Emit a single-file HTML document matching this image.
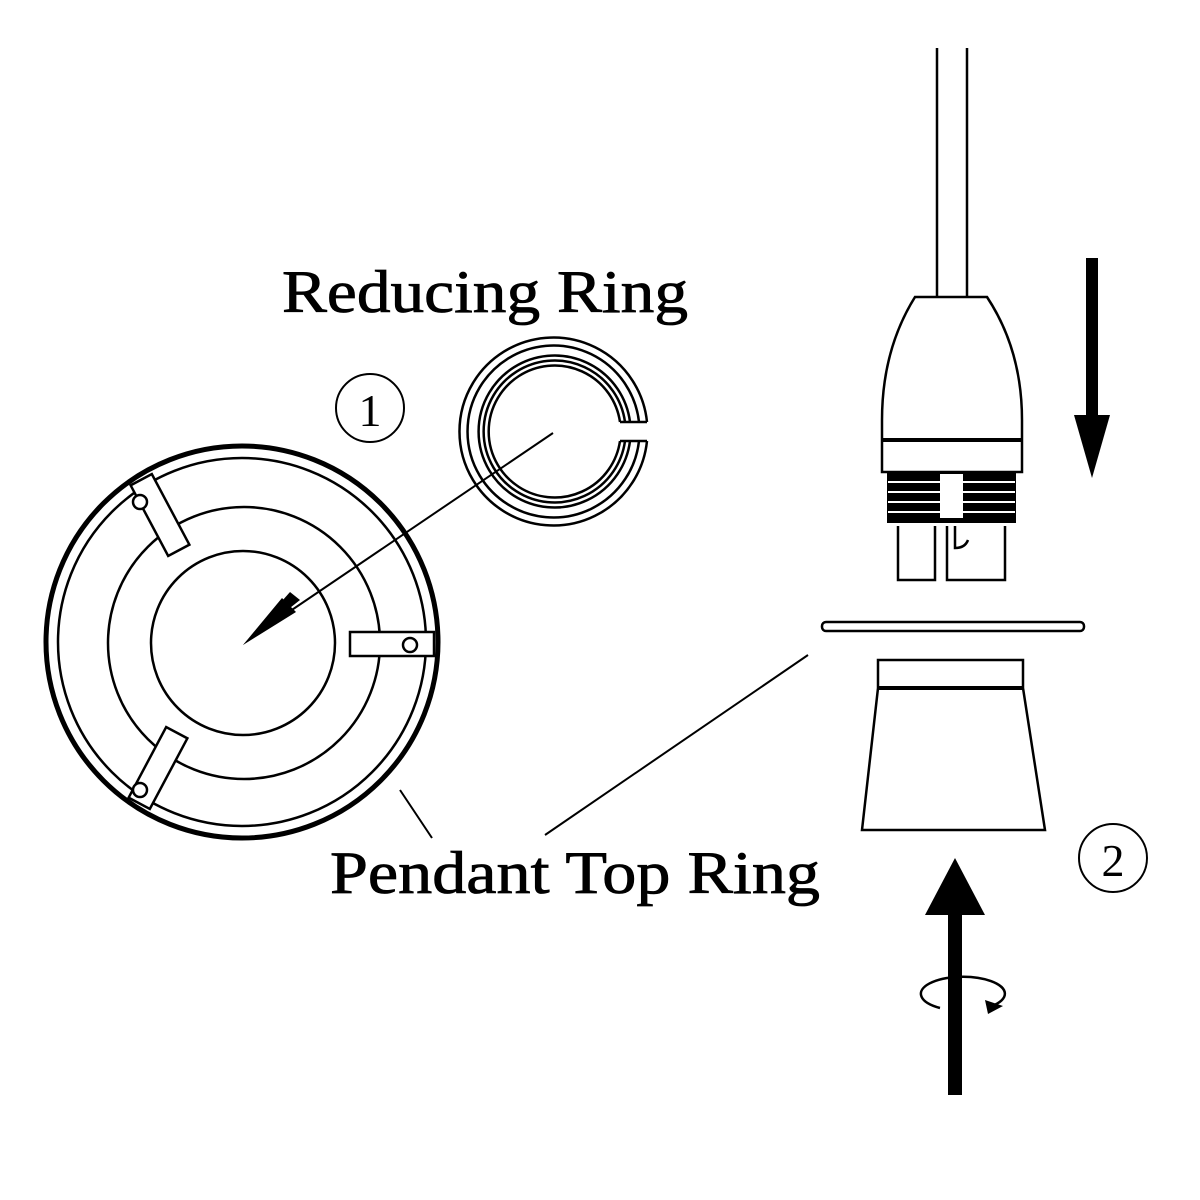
<!DOCTYPE html>
<html><head><style>body{margin:0;background:#fff}svg{display:block}</style></head><body>
<svg width="1200" height="1200" viewBox="0 0 1200 1200" xmlns="http://www.w3.org/2000/svg" font-family="Liberation Serif, serif">
<rect width="1200" height="1200" fill="#fff"/>
<g fill="none" stroke="#000" stroke-width="2.5">
<circle cx="242" cy="642" r="196" stroke-width="5"/>
<circle cx="242" cy="642" r="184"/>
<circle cx="244" cy="643" r="136"/>
<circle cx="243" cy="643" r="92"/>
<g fill="#fff">
<rect x="-12" y="-40" width="24" height="80" transform="translate(160,515) rotate(-28)"/>
<rect x="-12" y="-40" width="24" height="80" transform="translate(158,768) rotate(28)"/>
<rect x="350" y="632" width="84" height="24"/>
</g>
<circle cx="140" cy="502" r="7" fill="#fff"/>
<circle cx="140" cy="790" r="7" fill="#fff"/>
<circle cx="410" cy="645" r="7" fill="#fff"/>
<path d="M647 422 A94 94 0 1 0 647 441"/>
<path d="M639 422 A86 86 0 1 0 639 441"/>
<path d="M630 422 A76 76 0 1 0 630 441"/>
<path d="M625 422 A71 71 0 1 0 625 441"/>
<path d="M620 422 A66 66 0 1 0 620 441"/>
<path d="M647 422 H620 M647 441 H620"/>
<line x1="553" y1="433" x2="280" y2="618" stroke-width="2"/>
<line x1="400" y1="790" x2="432" y2="838" stroke-width="2"/>
<line x1="808" y1="655" x2="545" y2="835" stroke-width="2"/>
<circle cx="370" cy="408" r="34" stroke-width="2"/>
<circle cx="1113" cy="858" r="34" stroke-width="2"/>
<path d="M937 48 V297 M967 48 V297"/>
<path d="M915 297 H987 Q1022 350 1022 420 V472 H882 V420 Q882 350 915 297 Z" fill="#fff"/>
<line x1="882" y1="440" x2="1022" y2="440" stroke-width="4"/>
<rect x="888" y="472" width="127" height="50" fill="#000" stroke-width="2"/>
<path d="M888 482 H1015 M888 492 H1015 M888 502 H1015 M888 512 H1015" stroke="#fff" stroke-width="2"/>
<rect x="940" y="474" width="23" height="44" fill="#fff" stroke="none"/>
<path d="M898 526 V580 H935 V526 M947 526 V580 H1005 V526 M955 526 V548 Q965 548 968 540"/>
<rect x="822" y="622" width="262" height="9" rx="4"/>
<path d="M878 660 H1023 V688 L1045 830 H862 L878 688 Z" fill="#fff"/>
<line x1="878" y1="688" x2="1023" y2="688" stroke-width="4"/>
<path d="M940 1008 A42 17 0 1 1 992 1006"/>
</g>
<polygon points="243,645 300,600 290,592" fill="#000"/>
<polygon points="243,645 296,612 282,598" fill="#000"/>
<rect x="1086" y="258" width="12" height="162" fill="#000"/>
<polygon points="1074,415 1110,415 1092,478" fill="#000"/>
<rect x="948" y="910" width="14" height="185" fill="#000"/>
<polygon points="925,915 985,915 955,858" fill="#000"/>
<polygon points="985,1000 1003,1006 988,1014" fill="#000"/>
<text x="370" y="426" font-size="46" text-anchor="middle">1</text>
<text x="1113" y="876" font-size="46" text-anchor="middle">2</text>
<text x="282" y="312" font-size="60" textLength="406" lengthAdjust="spacingAndGlyphs" stroke="#000" stroke-width="0.8">Reducing Ring</text>
<text x="330" y="893" font-size="60" textLength="490" lengthAdjust="spacingAndGlyphs" stroke="#000" stroke-width="0.8">Pendant Top Ring</text>
</svg>
</body></html>
